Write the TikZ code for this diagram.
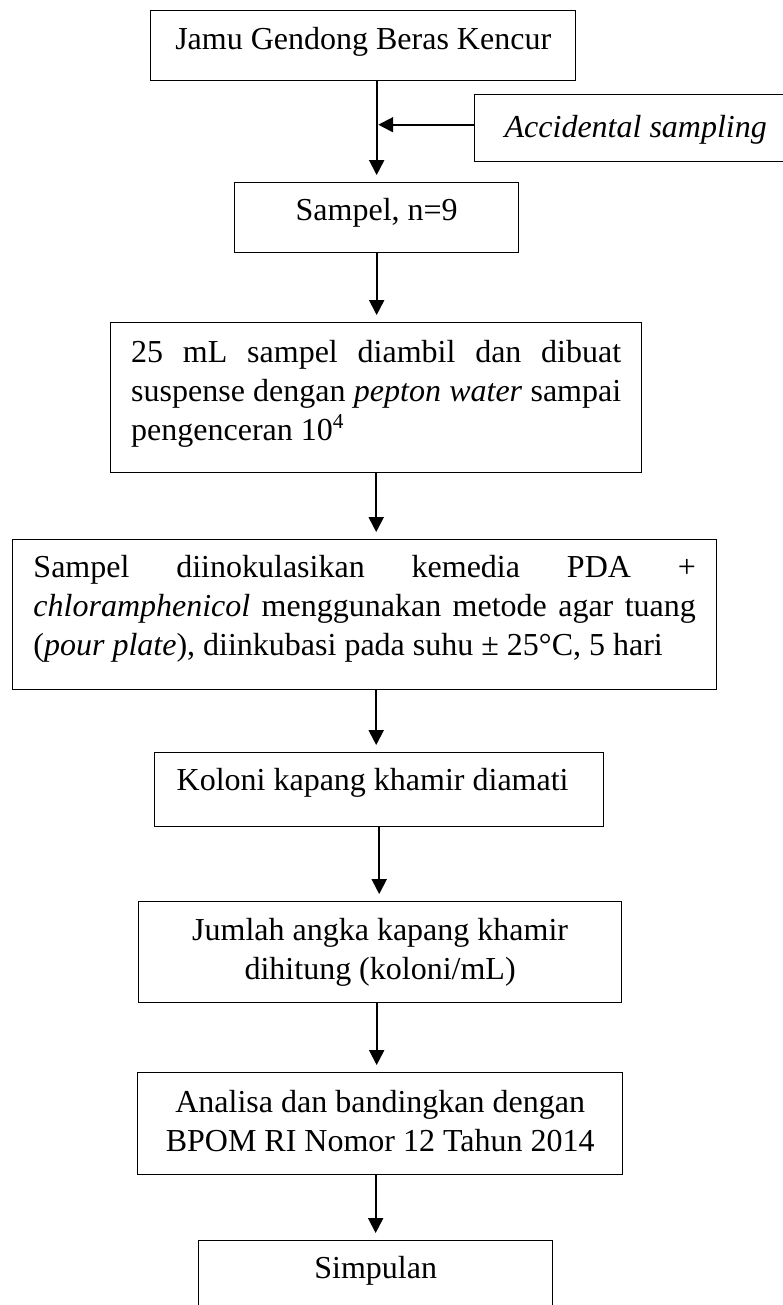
\documentclass[tikz,border=0pt]{standalone}
\usepackage{fontspec}
\setmainfont{Liberation Serif}
\usetikzlibrary{arrows.meta,calc}
\hyphenpenalty=10000
\exhyphenpenalty=10000
\tolerance=10000

\begin{document}
\begin{tikzpicture}[x=0.375pt,y=-0.375pt,
    box/.style={draw,line width=0.5pt,anchor=north west,inner ysep=0pt,
      font=\fontsize{12pt}{14.6pt}\selectfont},
    ctr/.style={box,align=flush center,inner xsep=0pt},
    lft/.style={box,align=flush left},
    jst/.style={box,align=justify},
    arr/.style={-{Triangle[length=5.6pt,width=5.6pt]},line width=0.75pt,shorten >=2.6pt}]
  \useasboundingbox (0,0) rectangle (783,1305);
  \clip (0,0) rectangle (783,1305);
  \node[ctr,text width=159.4pt,text height=14.6pt,text depth=11.65pt] (jamu) at (150,10)
    {Jamu Gendong Beras Kencur};
  \node[lft,inner xsep=11.25pt,text width=110pt,text height=16.1pt,text depth=9pt] (acc) at (474,94)
    {\textit{Accidental sampling}};
  \node[ctr,text width=106.5pt,text height=14.25pt,text depth=12pt] (sampel) at (234,182)
    {Sampel, n=9};
  \node[jst,inner xsep=7.7pt,text width=183.75pt,text height=14.9pt,text depth=41.35pt] (suspensi) at (110,322)
    {25 mL sampel diambil dan dibuat\linebreak suspense dengan \textit{pepton water} sampai\linebreak pengenceran 10\textsuperscript{4}};
  \node[jst,inner xsep=7.8pt,text width=248.4pt,text height=14.25pt,text depth=42pt] (inokulasi) at (12,539)
    {Sampel diinokulasikan kemedia PDA +\linebreak \textit{chloramphenicol} menggunakan metode agar tuang\linebreak (\textit{pour plate}), diinkubasi pada suhu ± 25°C, 5 hari};
  \node[lft,inner xsep=8.25pt,text width=151.9pt,text height=14.25pt,text depth=13.5pt] (koloni) at (154,752)
    {Koloni kapang khamir diamati};
  \node[ctr,text width=181.1pt,text height=14.6pt,text depth=23.3pt] (jumlah) at (138,901)
    {Jumlah angka kapang khamir\\dihitung (koloni/mL)};
  \node[ctr,text width=181.9pt,text height=15pt,text depth=23.25pt] (analisa) at (137,1072)
    {Analisa dan bandingkan dengan\\BPOM RI Nomor 12 Tahun 2014};
  \node[ctr,text width=132.75pt,text height=14.25pt,text depth=25pt] (simpulan) at (198,1240)
    {Simpulan};
  \coordinate (accin) at ($(acc.north west)!0.45!(acc.south west)$);
  \begin{scope}[arr]
    \draw (jamu.south -| sampel.north) to (sampel.north);
    \draw[shorten >=0.6pt] (accin) to (accin -| sampel.north);
    \draw (sampel.south) to (sampel.south |- suspensi.north);
    \draw (suspensi.south) to (suspensi.south |- inokulasi.north);
    \draw (inokulasi.south -| suspensi.south) to (suspensi.south |- koloni.north);
    \draw (koloni.south) to (koloni.south |- jumlah.north);
    \draw (jumlah.south -| sampel.south) to (sampel.south |- analisa.north);
    \draw (analisa.south -| simpulan.north) to (simpulan.north);
  \end{scope}
\end{tikzpicture}
\end{document}
